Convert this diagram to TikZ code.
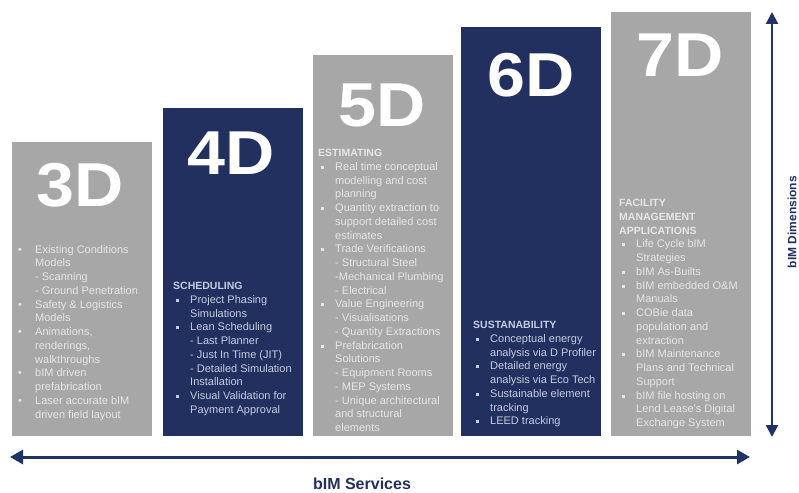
\documentclass[tikz,border=0pt]{standalone}
\usepackage{fontspec}
\setmainfont{Liberation Sans}
\usetikzlibrary{arrows.meta,positioning}
\definecolor{Slate}{HTML}{A7A7A7}
\definecolor{Ink}{HTML}{21305F}
\definecolor{PaleG}{HTML}{E6E6E6}
\definecolor{PaleB}{HTML}{C6CDE0}
\definecolor{Rule}{HTML}{1F3366}
\newcommand{\bimsq}{\rule[1.4pt]{3pt}{3pt}}
\newcommand{\bimitem}{\hspace*{3pt}\makebox[14pt][l]{\bimsq}}
\newcommand{\bimdot}{\makebox[17pt][l]{\textbullet}}
\newcommand{\bimcont}{\hspace*{17pt}}
\newcommand{\bimhead}[1]{{\bfseries\fontsize{10.5}{13.75}\selectfont #1}}
\newcommand{\bimbig}[1]{\scalebox{1.1}[1]{#1}}

\begin{document}
\begin{tikzpicture}[x=1pt,y=-1pt,>={Triangle[width=12pt,length=12pt]},
  blk/.style={minimum width=140,inner sep=0,anchor=north west},
  big/.style={text=white,font=\bfseries\fontsize{62}{62}\selectfont,anchor=base,inner sep=0},
  txt/.style={align=left,anchor=north west,inner sep=0,font=\fontsize{11}{13.75}\selectfont},
  axlbl/.style={text=Ink,font=\bfseries}]
\useasboundingbox (0,0) rectangle (799,492);
% columns
\node[blk,fill=Slate,minimum height=294](d3) at (12,142){};
\node[blk,fill=Ink,minimum height=328](d4) at (162.5,108){};
\node[blk,fill=Slate,minimum height=381](d5) at (312.5,55){};
\node[blk,fill=Ink,minimum height=409](d6) at (461,27){};
\node[blk,fill=Slate,minimum height=424](d7) at (611,12){};
% big labels
\node[big](l3) at (80,206){\bimbig{3D}};
\node[big](l4) at (231,174){\bimbig{4D}};
\node[big](l5) at (382,126){\bimbig{5D}};
\node[big](l6) at (531,97){\bimbig{6D}};
\node[big](l7) at (680,77){\bimbig{7D}};
% lists
\node[txt,text=PaleG](t3) at (18,245){\bimdot Existing Conditions\\ \bimcont Models\\ \bimcont - Scanning\\ \bimcont - Ground Penetration\\
  \bimdot Safety \& Logistics\\ \bimcont Models\\ \bimdot Animations,\\ \bimcont renderings,\\ \bimcont walkthroughs\\
  \bimdot bIM driven\\ \bimcont prefabrication\\ \bimdot Laser accurate bIM\\ \bimcont driven field layout};
\node[txt,text=PaleB](t4) at (173,282){\bimhead{SCHEDULING}\\ \bimitem Project Phasing\\ \bimcont Simulations\\ \bimitem Lean Scheduling\\
  \bimcont - Last Planner\\ \bimcont - Just In Time (JIT)\\ \bimcont - Detailed Simulation\\ \bimcont Installation\\
  \bimitem Visual Validation for\\ \bimcont Payment Approval};
\node[txt,text=PaleG](t5) at (318,149){\bimhead{ESTIMATING}\\ \bimitem Real time conceptual\\ \bimcont modelling and cost\\ \bimcont planning\\
  \bimitem Quantity extraction to\\ \bimcont support detailed cost\\ \bimcont estimates\\ \bimitem Trade Verifications\\
  \bimcont - Structural Steel\\ \bimcont -Mechanical Plumbing\\ \bimcont - Electrical\\ \bimitem Value Engineering\\
  \bimcont - Visualisations\\ \bimcont - Quantity Extractions\\ \bimitem Prefabrication\\ \bimcont Solutions\\
  \bimcont - Equipment Rooms\\ \bimcont - MEP Systems\\ \bimcont - Unique architectural\\ \bimcont and structural\\ \bimcont elements};
\node[txt,text=PaleB](t6) at (473,321){\bimhead{SUSTANABILITY}\\ \bimitem Conceptual energy\\ \bimcont analysis via D Profiler\\
  \bimitem Detailed energy\\ \bimcont analysis via Eco Tech\\ \bimitem Sustainable element\\ \bimcont tracking\\ \bimitem LEED tracking};
\node[txt,text=PaleG](t7) at (619,199){\bimhead{FACILITY}\\ \bimhead{MANAGEMENT}\\ \bimhead{APPLICATIONS}\\
  \bimitem Life Cycle bIM\\ \bimcont Strategies\\ \bimitem bIM As-Builts\\ \bimitem bIM embedded O\&M\\ \bimcont Manuals\\
  \bimitem COBie data\\ \bimcont population and\\ \bimcont extraction\\ \bimitem bIM Maintenance\\ \bimcont Plans and Technical\\
  \bimcont Support\\ \bimitem bIM file hosting on\\ \bimcont Lend Lease's Digital\\ \bimcont Exchange System};
% axes
\coordinate (vtop) at (772,12);
\coordinate (vbot) at (772,437);
\coordinate (hleft) at (10,457);
\coordinate (hright) at (750,457);
\draw[<->,Rule,line width=2.2pt](vtop)--(vbot);
\draw[<->,Rule,line width=3pt,>={Triangle[width=14pt,length=13pt]}](hleft)--(hright);
\node[axlbl,rotate=90,font=\bfseries\fontsize{12}{12}\selectfont](dimlbl) at (792,222){bIM Dimensions};
\node[axlbl,font=\bfseries\fontsize{16}{16}\selectfont](srvlbl) at (362,484){bIM Services};
\end{tikzpicture}
\end{document}
